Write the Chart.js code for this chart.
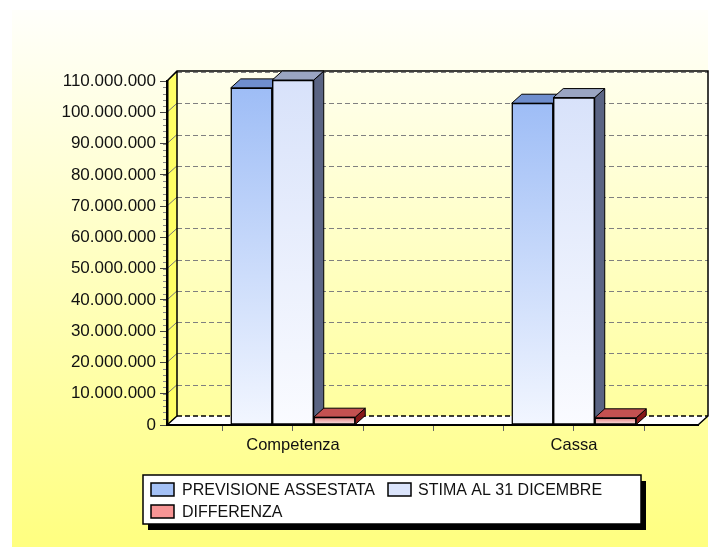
<!DOCTYPE html>
<html><head><meta charset="utf-8">
<script src="https://cdn.jsdelivr.net/npm/chart.js@4.4.1/dist/chart.umd.min.js"></script>
<style>html,body{margin:0;padding:0;background:#fff;}canvas{display:block;}</style>
</head><body>
<canvas id="c" width="718" height="547"></canvas>
<script>
// ---- data ----
const categories = ['Competenza', 'Cassa'];
const seriesNames = ['PREVISIONE ASSESTATA', 'STIMA AL 31 DICEMBRE', 'DIFFERENZA'];
const previsioneAssestata = [107800000, 102900000];
const stimaAl31Dicembre = [110300000, 104700000];
const differenza = [2500000, 2300000];
const yMax = 110000000;
const yStep = 10000000;
const xTickValues = [-0.25, 0, 0.25, 0.5, 0.75, 1, 1.25];

// ---- styles ----
const DX = 10, DY = -9;
const styles = [
  {top:'#9ebdf6', bottom:'#f2f6ff', topFace:'#6f8ecd', side:'#4d6294', swatch:'#a4c1f6'},
  {top:'#d8e2fa', bottom:'#fafbff', topFace:'#9aa5c2', side:'#5a6483', swatch:'#dbe4fb'},
  {top:'#e27d7d', bottom:'#fff0f0', topFace:'#c45151', side:'#861818', swatch:'#f79595'}
];
const seriesValues = [previsioneAssestata, stimaAl31Dicembre, differenza];
const FONT = "'Liberation Sans', Arial, sans-serif";

function fmt(v){ return String(Math.round(v)).replace(/\B(?=(\d{3})+(?!\d))/g, '.'); }

const framePlugin = {
  id: 'frame',
  beforeDraw(chart){
    const c = chart.ctx, a = chart.chartArea, ys = chart.scales.y;
    const L = a.left, R = a.right, T = a.top, B = a.bottom;
    const wallTop = T + DY - 1;
    c.save();
    c.fillStyle = '#fff'; c.fillRect(0, 0, chart.width, chart.height);
    const g = c.createLinearGradient(0, 10, 0, chart.height);
    g.addColorStop(0, '#fffffb'); g.addColorStop(1, '#ffff80');
    c.fillStyle = g; c.fillRect(12, 10, 696, chart.height - 10);
    // left wall
    c.fillStyle = '#ffff66';
    c.beginPath(); c.moveTo(L, B); c.lineTo(L, T); c.lineTo(L + DX, wallTop); c.lineTo(L + DX, B + DY); c.closePath(); c.fill();
    // floor
    c.fillStyle = '#ffffff';
    c.beginPath(); c.moveTo(L, B); c.lineTo(R, B); c.lineTo(R + DX, B + DY); c.lineTo(L + DX, B + DY); c.closePath(); c.fill();
    // back grid lines
    c.lineWidth = 1; c.strokeStyle = '#808080'; c.setLineDash([5, 3]);
    for (let v = yStep; v <= yMax; v += yStep) {
      const y = Math.round(ys.getPixelForValue(v) + DY) + 0.5;
      c.beginPath(); c.moveTo(L + DX, y); c.lineTo(R + DX, y); c.stroke();
    }
    c.strokeStyle = '#000'; c.lineWidth = 1.5;
    const y0 = ys.getPixelForValue(0) + DY;
    c.beginPath(); c.moveTo(L + DX, y0); c.lineTo(R + DX, y0); c.stroke();
    c.setLineDash([]);
    // left wall diagonals
    c.strokeStyle = '#777'; c.lineWidth = 1;
    for (let v = yStep; v <= yMax; v += yStep) {
      const y = ys.getPixelForValue(v);
      c.beginPath(); c.moveTo(L, y); c.lineTo(L + DX, y + DY); c.stroke();
    }
    // minor ticks
    c.strokeStyle = '#888';
    for (let v = 0; v <= yMax; v += yStep / 5) {
      const y = Math.round(ys.getPixelForValue(v)) + 0.5;
      c.beginPath(); c.moveTo(L - 4, y); c.lineTo(L, y); c.stroke();
    }
    // borders
    c.strokeStyle = '#000'; c.lineWidth = 1.5;
    c.beginPath();
    c.moveTo(L, T); c.lineTo(L + DX, wallTop); c.lineTo(R + DX, wallTop); c.lineTo(R + DX, B + DY); c.lineTo(R, B);
    c.moveTo(L + DX, wallTop); c.lineTo(L + DX, B + DY); c.lineTo(L, B);
    c.stroke();
    c.restore();
  },
  beforeDatasetsDraw(chart){
    const c = chart.ctx;
    c.save();
    c.lineWidth = 1; c.strokeStyle = '#000'; c.lineJoin = 'round';
    for (let k = 0; k < chart.data.datasets.length; k++) {
      const meta = chart.getDatasetMeta(k);
      meta.data.forEach(el => {
        const p = el.getProps(['x', 'y', 'base', 'width'], true);
        const l = p.x - p.width / 2, r = p.x + p.width / 2, t = Math.min(p.y, p.base), b = Math.max(p.y, p.base);
        c.fillStyle = styles[k].side;
        c.beginPath(); c.moveTo(r, t); c.lineTo(r + DX, t + DY); c.lineTo(r + DX, b + DY); c.lineTo(r, b); c.closePath(); c.fill(); c.stroke();
        c.fillStyle = styles[k].topFace;
        c.beginPath(); c.moveTo(l, t); c.lineTo(l + DX, t + DY); c.lineTo(r + DX, t + DY); c.lineTo(r, t); c.closePath(); c.fill(); c.stroke();
      });
    }
    c.restore();
  },
  afterDraw(chart){
    const c = chart.ctx;
    c.save();
    const bx = 143, by = 475, bw = 498, bh = 49;
    c.fillStyle = '#000'; c.fillRect(bx + 5, by + 6, bw, bh);
    c.fillStyle = '#fff'; c.fillRect(bx, by, bw, bh);
    c.strokeStyle = '#000'; c.lineWidth = 1.5; c.strokeRect(bx, by, bw, bh);
    const items = [[151, 483, 182], [388, 483, 418], [151, 505, 182]];
    c.font = '16px ' + FONT; c.textBaseline = 'middle'; c.textAlign = 'left';
    chart.data.datasets.forEach((ds, k) => {
      const [sx, sy, tx] = items[k];
      c.fillStyle = styles[k].swatch; c.fillRect(sx, sy, 23, 13);
      c.strokeStyle = '#000'; c.lineWidth = 1.5; c.strokeRect(sx, sy, 23, 13);
      c.fillStyle = '#111'; c.fillText(ds.label, tx, sy + 7.5);
    });
    c.restore();
  }
};

const chart = new Chart(document.getElementById('c'), {
  type: 'bar',
  data: {
    datasets: seriesNames.map((name, k) => ({
      label: name,
      data: categories.map((cat, i) => ({x: i, y: seriesValues[k][i]})),
      backgroundColor: (ctx) => {
        const ch = ctx.chart;
        if (!ch.chartArea || ctx.type !== 'data' || !ch.scales.y) return styles[k].top;
        const ys = ch.scales.y;
        const yT = ys.getPixelForValue(ctx.raw.y), yB = ys.getPixelForValue(0);
        const g = ch.ctx.createLinearGradient(0, yT, 0, yB);
        g.addColorStop(0, styles[k].top); g.addColorStop(1, styles[k].bottom);
        return g;
      },
      borderColor: '#000',
      borderWidth: 1.5,
      borderSkipped: false,
      clip: false,
      barThickness: 41.5
    }))
  },
  options: {
    responsive: false,
    animation: false,
    layout: {padding: {top: 81, right: 20, left: 0, bottom: 0}},
    plugins: {legend: {display: false}, tooltip: {enabled: false}},
    scales: {
      x: {
        type: 'linear',
        offset: false,
        min: -0.4484, max: 1.4413,
        afterBuildTicks: (s) => { s.ticks = xTickValues.map(v => ({value: v})); },
        afterFit: (s) => { s.height = 122; },
        grid: {offset: false, drawOnChartArea: false, drawTicks: true, tickLength: 6, color: '#666', lineWidth: 1},
        border: {display: true, color: '#000', width: 2},
        ticks: {
          autoSkip: false, maxRotation: 0, padding: 5,
          font: {family: FONT, size: 16.5}, color: '#111',
          callback: (v) => Number.isInteger(v) ? categories[v] : ''
        }
      },
      y: {
        min: 0, max: yMax,
        afterFit: (s) => { s.width = 167; },
        grid: {drawOnChartArea: false, drawTicks: true, tickLength: 7, color: '#444'},
        border: {display: true, color: '#000', width: 2.5},
        ticks: {
          stepSize: yStep, padding: 4,
          font: {family: FONT, size: 17}, color: '#111',
          callback: (v) => fmt(v)
        }
      }
    }
  },
  plugins: [framePlugin]
});
</script>
</body></html>
